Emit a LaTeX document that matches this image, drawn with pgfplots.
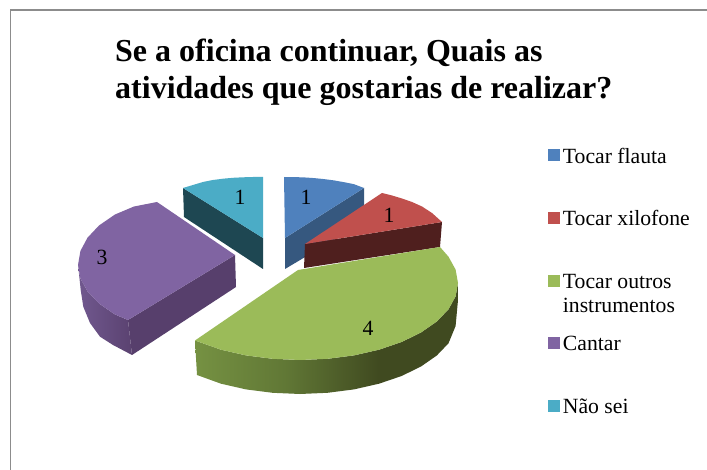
\documentclass[border=0pt]{standalone}
\usepackage{pgfplots}
\pgfplotsset{compat=1.18}
\usepackage{fontspec}
\setmainfont{Liberation Serif}
\definecolor{blueT}{HTML}{4F81BD}\definecolor{blueS}{HTML}{36587F}
\definecolor{redT}{HTML}{C0504D}\definecolor{redS}{HTML}{4F1F1E}
\definecolor{greenT}{HTML}{9BBB59}
\definecolor{purpT}{HTML}{8064A2}\definecolor{purpS}{HTML}{573F6C}
\definecolor{cyanT}{HTML}{4BACC6}\definecolor{cyanS}{HTML}{1E4752}
\definecolor{frameC}{HTML}{8C8C8C}
\pgfdeclarehorizontalshading{greenside}{100bp}{rgb(0bp)=(.46,.57,.26);rgb(25bp)=(.46,.57,.26);rgb(42bp)=(.38,.47,.21);rgb(60bp)=(.25,.29,.125);rgb(100bp)=(.25,.29,.125)}
\begin{document}
\begin{tikzpicture}
\begin{axis}[
  scale only axis, width=707pt, height=470pt,
  xmin=0, xmax=707, ymin=0, ymax=470, y dir=reverse,
  axis lines=none, clip=true, no markers,
  title={Se a oficina continuar, Quais as\\atividades que gostarias de realizar?},
  title style={at={(axis cs:115,45)}, anchor=north west, align=left, inner sep=0pt,
    font=\fontsize{32}{37}\selectfont\bfseries},
  legend image code/.code={\fill[#1] (0pt,-2pt) rectangle (11pt,9pt);},
  legend cell align=left,
  legend style={at={(axis cs:548,149)}, anchor=north west, draw=none, fill=none,
    inner sep=0pt, outer sep=0pt, row sep=43.6pt,
    font=\fontsize{21.7}{24}\selectfont,
    /tikz/every even column/.append style={column sep=0pt},
    nodes={inner sep=0pt, inner xsep=3.5pt, text height=14pt, text depth=5pt}},
]
\addlegendimage{blueT}\addlegendimage{redT}\addlegendimage{greenT}\addlegendimage{purpT}\addlegendimage{cyanT}
\legend{Tocar flauta,Tocar xilofone,{\smash{\parbox[t]{130pt}{Tocar outros\\instrumentos}}},Cantar,Não sei}
% page
\addplot[fill=white, draw=none, forget plot] coordinates {(0,0) (707,0) (707,470) (0,470)};
% frame
\addplot[frameC, line width=1.9pt, forget plot] coordinates {(10.5,470) (10.5,10) (707,10)};
% cyan
\addplot[fill=cyanS, draw=none, forget plot] coordinates {(183,188) (263,238) (263,269) (184,217)};
\addplot[fill=cyanT, draw=none, forget plot] coordinates {(263,177) (263,238) (183,188) (193,185) (203,182) (213,180) (223,178.7) (233,177.8) (243,177.3) (253,177)};
% blue
\addplot[fill=blueS, draw=none, forget plot] coordinates {(285,238) (364,188) (364,222) (285,269)};
\addplot[fill=blueT, draw=none, forget plot] coordinates {(285,238) (284,177) (294,177.1) (304,177.4) (314,178.1) (324,179.1) (334,180.4) (344,182.2) (354,184.2) (364,188)};
% red
\addplot[fill=redS, draw=none, forget plot] coordinates {(305,244) (442,222) (440,247) (304,268)};
\addplot[fill=redT, draw=none, forget plot] coordinates {(305,244) (382,193) (392,195.5) (402,198.5) (412,202) (422,206.5) (432,213) (442,222)};
% purple
\addplot[fill=purpS, draw=none, forget plot] coordinates {(235,255) (236,287) (132,355) (128,320)};
\addplot[left color=purpT!88!black, right color=purpS!92!purpT, draw=none, forget plot] coordinates {(78,265) (78.3,267) (80.7,290) (83.3,306.7) (90,323) (100,336.7) (113,345) (132,355) (128,320) (115,314.5) (99,303.5) (87.5,291.3) (80.4,278.4)};
\addplot[fill=purpT, draw=none, forget plot] coordinates {(157,202) (235,255) (128,320) (115,314.5) (99,303.5) (87.5,291.3) (80.4,278.4) (78,265) (80.4,251) (87.5,237.7) (99,225.5) (115,214.5) (134,206.5)};
% green
\addplot[shade, shading=greenside, draw=none, forget plot] coordinates {(458,283) (455.6,296.4) (448.5,309.3) (436.8,321.5) (421,332.5) (401.6,342) (379,349.7) (354,355.4) (327.5,358.8) (300,360) (272.6,358.8) (246,355.4) (221,349.7) (195,340.5) (197,375) (221,383.7) (246,389.4) (272.6,392.8) (300,394) (327.5,392.8) (354,389.4) (379,383.7) (401.6,376) (421,366.5) (436.8,355.5) (448.5,343.3) (455.6,326) (458,300)};
\addplot[fill=greenT, draw=none, forget plot] coordinates {(298,270) (440,247) (448.5,256.7) (455.6,269.6) (458,283) (455.6,296.4) (448.5,309.3) (436.8,321.5) (421,332.5) (401.6,342) (379,349.7) (354,355.4) (327.5,358.8) (300,360) (272.6,358.8) (246,355.4) (221,349.7) (195,340.5)};
% values
\addplot[draw=none, forget plot, point meta=explicit symbolic,
  nodes near coords={\pgfplotspointmeta},
  every node near coord/.style={anchor=center, inner sep=0pt, font=\fontsize{21.7}{24}\selectfont, text=black}]
  coordinates {(306,197)[1] (389,215)[1] (368,328)[4] (102,257)[3] (240,197)[1]};
\end{axis}
\end{tikzpicture}
\end{document}
